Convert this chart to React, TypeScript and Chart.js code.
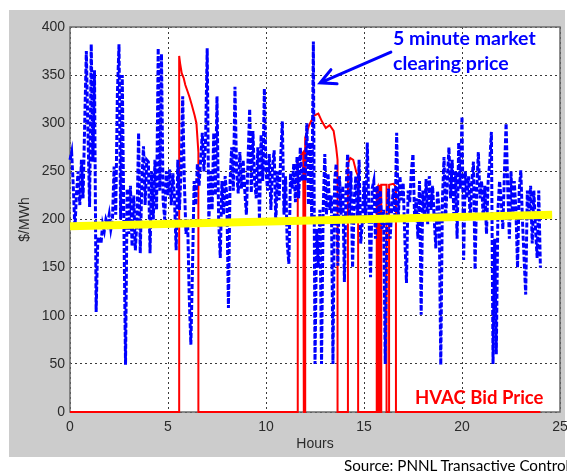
import React, { useEffect, useRef } from 'react';
import { Chart, registerables } from 'chart.js';

Chart.register(...registerables);

// ---- Data ----
// 5-minute market clearing price, one row per hour (12 readings per hour)
const BLUE_START_HOUR = 0;
const BLUE_STEP_HOURS = 1 / 12;
const BLUE_PRICES = [
  262, 270, 235, 190, 228, 250, 215, 262, 222, 300, 375, 290,
  213, 382, 260, 355, 104, 178, 182, 175, 195, 188, 200, 195,
  205, 190, 200, 255, 205, 330, 382, 200, 350, 195, 49, 232,
  185, 235, 172, 225, 168, 200, 290, 165, 240, 276, 215, 262,
  260, 165, 250, 200, 262, 210, 378, 230, 372, 220, 200, 250,
  225, 252, 215, 248, 220, 168, 262, 210, 250, 328, 240, 185,
  200, 120, 70, 150, 240, 215, 258, 235, 262, 290, 250, 282,
  378, 195, 250, 210, 290, 225, 328, 200, 160, 240, 205, 245,
  225, 108, 240, 275, 230, 338, 250, 227, 270, 232, 262, 230,
  205, 262, 315, 228, 292, 240, 222, 275, 200, 288, 240, 336,
  250, 230, 268, 210, 255, 272, 195, 250, 220, 265, 302, 205,
  245, 175, 154, 248, 232, 258, 218, 265, 222, 275, 240, 255,
  240, 300, 215, 280, 200, 385, 50, 190, 150, 210, 50, 210,
  268, 205, 248, 210, 225, 50, 240, 258, 152, 245, 205, 235,
  135, 232, 268, 200, 250, 150, 220, 245, 200, 262, 175, 198,
  240, 200, 280, 210, 140, 232, 240, 180, 235, 200, 230, 190,
  210, 50, 200, 232, 180, 212, 232, 200, 290, 200, 245, 220,
  238, 180, 134, 230, 218, 250, 268, 200, 222, 180, 240, 101,
  230, 200, 242, 195, 245, 210, 235, 200, 170, 230, 210, 49,
  220, 265, 200, 240, 275, 222, 262, 205, 250, 180, 280, 232,
  307, 158, 250, 222, 245, 200, 240, 260, 148, 230, 270, 222,
  240, 200, 235, 185, 240, 260, 291, 50, 180, 60, 210, 240,
  220, 190, 250, 300, 232, 180, 250, 200, 240, 210, 150, 230,
  251, 200, 160, 122, 230, 200, 235, 175, 230, 190, 160, 230,
  150,
];

// HVAC bid price (step profile)
const RED_HOURS = [
  0, 5.57, 5.57, 5.62, 5.7, 5.8, 5.88, 6.0, 6.1, 6.2, 6.36, 6.45, 6.55, 6.55,
  11.62, 11.62, 11.75, 11.9, 11.93, 12.0, 12.0, 12.2, 12.45, 12.67, 12.85, 13.05, 13.25, 13.45, 13.58, 13.65, 13.65,
  14.18, 14.18, 14.3, 14.45, 14.6, 14.7, 14.7,
  15.65, 15.65, 15.7, 15.7, 15.76, 15.76, 15.82, 15.82, 15.88, 15.88, 16.15, 16.15, 16.28, 16.28, 16.5, 16.63, 16.63,
  24.0,
];
const RED_PRICES = [
  0, 0, 370, 362, 352, 347, 340, 333, 327, 320, 308, 300, 270, 0,
  0, 262, 266, 270, 0, 0, 285, 298, 308, 310, 302, 295, 298, 292, 275, 262, 0,
  0, 258, 264, 262, 250, 245, 0,
  0, 232, 234, 0, 0, 235, 235, 0, 0, 236, 236, 0, 0, 236, 237, 234, 0,
  0,
];

const YELLOW_HOURS = [0, 24.6];
const YELLOW_PRICES = [193, 205];

const X_TICKS = [0, 5, 10, 15, 20, 25];
const Y_TICKS = [0, 50, 100, 150, 200, 250, 300, 350, 400];

// arrow annotation (data coordinates): tail -> tip
const ARROW_TAIL = { x: 16.37, y: 374 };
const ARROW_TIP = { x: 12.76, y: 342 };

const TICK_FONT = { family: '"Liberation Sans", Arial, sans-serif', size: 14 };
const TEXT_COLOR = '#2b2b2b';

const framePlugin = {
  id: 'frame',
  beforeDraw(chart: any) {
    const { ctx, chartArea: a } = chart;
    ctx.save();
    ctx.fillStyle = '#ffffff';
    ctx.fillRect(0, 0, chart.width, chart.height);
    ctx.fillStyle = '#cccccc';
    ctx.fillRect(9, 10, 556, 447);
    ctx.fillStyle = '#ffffff';
    ctx.fillRect(a.left, a.top, a.right - a.left, a.bottom - a.top);
    ctx.restore();
  },
  beforeDatasetsDraw(chart: any) {
    const { ctx, chartArea: a } = chart;
    ctx.save();
    ctx.strokeStyle = '#6a6a6a';
    ctx.lineWidth = 1.5;
    ctx.strokeRect(a.left, a.top, a.right - a.left, a.bottom - a.top);
    ctx.restore();
  },
  afterDatasetsDraw(chart: any) {
    const { ctx } = chart;
    const xs = chart.scales.x;
    const ys = chart.scales.y;
    const tx = xs.getPixelForValue(ARROW_TAIL.x);
    const ty = ys.getPixelForValue(ARROW_TAIL.y);
    const px = xs.getPixelForValue(ARROW_TIP.x);
    const py = ys.getPixelForValue(ARROW_TIP.y);
    const ang = Math.atan2(ty - py, tx - px);
    const len = 17;
    const spread = (27 * Math.PI) / 180;
    ctx.save();
    ctx.strokeStyle = '#0000ff';
    ctx.lineWidth = 3;
    ctx.lineCap = 'round';
    ctx.beginPath();
    ctx.moveTo(tx, ty);
    ctx.lineTo(px, py);
    ctx.moveTo(px + len * Math.cos(ang - spread), py + len * Math.sin(ang - spread));
    ctx.lineTo(px, py);
    ctx.lineTo(px + len * Math.cos(ang + spread), py + len * Math.sin(ang + spread));
    ctx.stroke();
    ctx.restore();
  },
};

export default function App() {
  const ref = useRef<HTMLCanvasElement | null>(null);

  useEffect(() => {
    if (!ref.current) return;
    const blue = BLUE_PRICES.map((y, i) => ({ x: BLUE_START_HOUR + i * BLUE_STEP_HOURS, y }));
    const red = RED_HOURS.map((x, i) => ({ x, y: RED_PRICES[i] }));
    const yellow = YELLOW_HOURS.map((x, i) => ({ x, y: YELLOW_PRICES[i] }));

    const chart = new Chart(ref.current, {
      type: 'line',
      data: {
        datasets: [
          {
            label: 'Average',
            data: yellow,
            borderColor: '#ffff00',
            borderWidth: 8,
            borderCapStyle: 'butt',
            pointRadius: 0,
            clip: false,
          } as any,
          {
            label: '5 minute market clearing price',
            data: blue,
            borderColor: '#0000ff',
            borderWidth: 3,
            borderDash: [5, 2],
            pointRadius: 0,
            clip: false,
          } as any,
          {
            label: 'HVAC Bid Price',
            data: red,
            borderColor: '#ff0000',
            borderWidth: 2,
            pointRadius: 0,
            clip: false,
          } as any,
        ],
      },
      options: {
        animation: false,
        responsive: false,
        events: [],
        layout: { padding: { top: 27, right: 7, bottom: 0, left: 0 } },
        elements: { line: { tension: 0 } },
        plugins: { legend: { display: false }, tooltip: { enabled: false } },
        scales: {
          x: {
            type: 'linear',
            min: 0,
            max: 25,
            afterBuildTicks: (s: any) => {
              s.ticks = X_TICKS.map((value) => ({ value }));
            },
            afterFit: (s: any) => {
              s.height = 61;
              s.paddingLeft = 0;
              s.paddingRight = 0;
            },
            grid: { color: '#3a3a3a', lineWidth: 1, drawTicks: false },
            border: { display: false, dash: [2, 3] },
            ticks: { padding: 7, font: TICK_FONT, color: TEXT_COLOR, maxRotation: 0, autoSkip: false },
            title: {
              display: true,
              text: 'Hours',
              font: TICK_FONT,
              color: TEXT_COLOR,
              padding: { top: 0, bottom: 20 },
            },
          },
          y: {
            type: 'linear',
            min: 0,
            max: 400,
            afterBuildTicks: (s: any) => {
              s.ticks = Y_TICKS.map((value) => ({ value }));
            },
            afterFit: (s: any) => {
              s.width = 70;
              s.paddingTop = 0;
              s.paddingBottom = 0;
            },
            grid: { color: '#3a3a3a', lineWidth: 1, drawTicks: false },
            border: { display: false, dash: [2, 3] },
            ticks: { padding: 5, font: TICK_FONT, color: TEXT_COLOR, autoSkip: false },
            title: {
              display: true,
              text: '$/MWh',
              font: TICK_FONT,
              color: TEXT_COLOR,
              padding: { top: 17, bottom: 0 },
            },
          },
        },
      },
      plugins: [framePlugin],
    } as any);
    return () => chart.destroy();
  }, []);

  const annoFont = 'Lato, "Open Sans", "Noto Sans", sans-serif';

  return (
    <div
      style={{
        position: 'fixed',
        left: 0,
        top: 0,
        width: 567,
        height: 473,
        overflow: 'hidden',
        background: '#ffffff',
      }}
    >
      <canvas ref={ref} width={567} height={473} style={{ position: 'absolute', left: 0, top: 0, display: 'block' }} />
      <div
        style={{
          position: 'absolute',
          left: 393,
          top: 24.5,
          color: '#0000ff',
          fontFamily: annoFont,
          fontWeight: 700,
          fontSize: 19.5,
          lineHeight: '25px',
          whiteSpace: 'nowrap',
        }}
      >
        5 minute market
        <br />
        clearing price
      </div>
      <div
        style={{
          position: 'absolute',
          left: 415,
          top: 385,
          color: '#ff0000',
          fontFamily: annoFont,
          fontWeight: 700,
          fontSize: 18.5,
          lineHeight: '25px',
          whiteSpace: 'nowrap',
        }}
      >
        HVAC Bid Price
      </div>
      <div
        style={{
          position: 'absolute',
          left: 344,
          top: 457,
          color: '#000000',
          fontFamily: annoFont,
          fontSize: 15.2,
          lineHeight: '17px',
          whiteSpace: 'nowrap',
        }}
      >
        Source: PNNL Transactive Control
      </div>
    </div>
  );
}
